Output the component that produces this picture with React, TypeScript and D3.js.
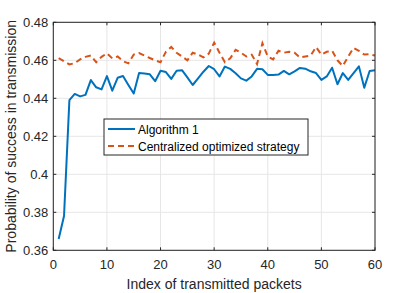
import React from "react";
import * as d3 from "d3";

const xTicks = [0, 10, 20, 30, 40, 50, 60];
const yTicks = [0.36, 0.38, 0.4, 0.42, 0.44, 0.46, 0.48];
const yTickLabels = ["0.36", "0.38", "0.4", "0.42", "0.44", "0.46", "0.48"];

const algorithm1 = [
  0.366, 0.378, 0.439, 0.4423, 0.441, 0.4418, 0.4496, 0.4458, 0.4447, 0.4517,
  0.444, 0.4508, 0.4517, 0.447, 0.4425, 0.4533, 0.453, 0.4526, 0.449, 0.4545,
  0.4538, 0.4502, 0.4545, 0.4548, 0.451, 0.447, 0.4505, 0.454, 0.457, 0.4553,
  0.4515, 0.4567, 0.4555, 0.4532, 0.4505, 0.4493, 0.4515, 0.4555, 0.4553, 0.4523,
  0.4523, 0.4525, 0.4544, 0.4526, 0.4542, 0.456, 0.4556, 0.4542, 0.4533, 0.4497,
  0.4515, 0.4561, 0.4474, 0.4533, 0.4497, 0.4533, 0.4568, 0.4456, 0.4544, 0.4548,
];

const centralized = [
  0.4612, 0.4595, 0.4578, 0.4585, 0.4605, 0.4618, 0.4625, 0.459, 0.4618, 0.4637,
  0.461, 0.462, 0.4595, 0.4584, 0.463, 0.4638, 0.4625, 0.4612, 0.46, 0.459,
  0.4645, 0.467, 0.464, 0.462, 0.46, 0.464, 0.463, 0.4615, 0.4635, 0.4693,
  0.464, 0.459, 0.461, 0.4655, 0.464, 0.462, 0.463, 0.458, 0.469, 0.462,
  0.4605, 0.465, 0.464, 0.4645, 0.464, 0.4615, 0.462, 0.4625, 0.467, 0.463,
  0.4645, 0.465, 0.46, 0.457, 0.462, 0.4665, 0.465, 0.463, 0.4632, 0.4625,
];

const seriesNames = ["Algorithm 1", "Centralized optimized strategy"];

const W = 415;
const H = 293;
const left = 53.3;
const right = 375;
const top = 22.3;
const bottom = 250.3;

export default function App() {
  const x = d3.scaleLinear().domain([0, 60]).range([left, right]);
  const y = d3.scaleLinear().domain([0.36, 0.48]).range([bottom, top]);
  const line = d3
    .line<number>()
    .x((_, i) => x(i + 1))
    .y((d) => y(d));
  const font = "'Liberation Sans', Arial, Helvetica, sans-serif";
  const axisColor = "#262626";
  return (
    <svg
      width={W}
      height={H}
      style={{ position: "absolute", left: 0, top: 0, background: "#fff" }}
      fontFamily={font}
    >
      <rect x={0} y={0} width={W} height={H} fill="#fff" />
      {xTicks.map((t) => (
        <line key={"gx" + t} x1={x(t)} x2={x(t)} y1={top} y2={bottom} stroke="#e6e6e6" strokeWidth={1} />
      ))}
      {yTicks.map((t) => (
        <line key={"gy" + t} x1={left} x2={right} y1={y(t)} y2={y(t)} stroke="#e6e6e6" strokeWidth={1} />
      ))}
      <path d={line(algorithm1) || ""} fill="none" stroke="#0072BD" strokeWidth={2} strokeLinejoin="round" />
      <path d={line(centralized) || ""} fill="none" stroke="#D95319" strokeWidth={2} strokeDasharray="6,4" />
      <rect x={left} y={top} width={right - left} height={bottom - top} fill="none" stroke={axisColor} strokeWidth={1} />
      {xTicks.map((t) => (
        <g key={"tx" + t}>
          <line x1={x(t)} x2={x(t)} y1={bottom} y2={bottom - 3} stroke={axisColor} />
          <line x1={x(t)} x2={x(t)} y1={top} y2={top + 3} stroke={axisColor} />
          <text x={x(t)} y={bottom + 19} fontSize={13} textAnchor="middle" fill={axisColor}>
            {t}
          </text>
        </g>
      ))}
      {yTicks.map((t, i) => (
        <g key={"ty" + t}>
          <line x1={left} x2={left + 3} y1={y(t)} y2={y(t)} stroke={axisColor} />
          <line x1={right} x2={right - 3} y1={y(t)} y2={y(t)} stroke={axisColor} />
          <text x={left - 5} y={y(t) + 4.5} fontSize={13} textAnchor="end" fill={axisColor}>
            {yTickLabels[i]}
          </text>
        </g>
      ))}
      <text x={(left + right) / 2} y={289} fontSize={14} textAnchor="middle" fill={axisColor}>
        Index of transmitted packets
      </text>
      <text
        transform={`translate(16, ${(top + bottom) / 2}) rotate(-90)`}
        fontSize={14}
        textAnchor="middle"
        fill={axisColor}
      >
        Probability of success in transmission
      </text>
      <rect x={104} y={119} width={204} height={36} fill="#fff" stroke={axisColor} strokeWidth={1} />
      <line x1={108} x2={135} y1={129} y2={129} stroke="#0072BD" strokeWidth={2} />
      <line x1={108} x2={135} y1={146} y2={146} stroke="#D95319" strokeWidth={2} strokeDasharray="6,4" />
      <text x={138} y={133.5} fontSize={12} fill="#000">
        {seriesNames[0]}
      </text>
      <text x={138} y={150.5} fontSize={12} fill="#000">
        {seriesNames[1]}
      </text>
    </svg>
  );
}
